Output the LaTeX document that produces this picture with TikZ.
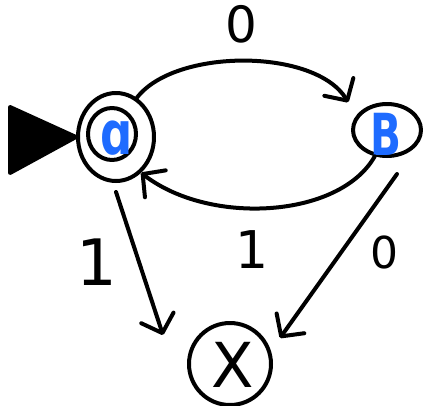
\documentclass[tikz,border=0pt]{standalone}
\usepackage{fontspec}
\setmainfont{DejaVu Sans}
\usetikzlibrary{shapes.geometric,arrows.meta}
\definecolor{stblue}{HTML}{1E6BFF}
\tikzset{
  ink/.style={line width=4pt, line cap=round, line join=round},
  stateouter/.style={ink, draw, ellipse, inner sep=0pt},
  arr/.style={ink, -{Straight Barb[length=16pt,width=34pt,line cap=round,line join=round]}},
  lbl/.style={inner sep=0pt, text=black}
}
\begin{document}
\begin{tikzpicture}[x=1pt,y=-1pt]
\useasboundingbox (0,0) rectangle (423,405);
% states
\node[stateouter, minimum width=76pt, minimum height=88pt] (a) at (116,137) {};
\node[stateouter, minimum width=48pt, minimum height=52pt] (ain) at (112,134) {};
\node[lbl, text=stblue, font=\bfseries\fontsize{60}{60}\selectfont] (alab) at (117,138) {\scalebox{0.75}[1]{ɑ}};
\node[stateouter, minimum width=68pt, minimum height=52pt] (B) at (387,130) {};
\node[lbl, text=stblue, font=\bfseries\fontsize{58}{58}\selectfont] (blab) at (386,134) {\scalebox{0.7}[1]{B}};
\node[ink, draw, circle, minimum size=82pt, inner sep=0pt] (X) at (230,364) {};
\node[lbl, font=\fontsize{62}{62}\selectfont] (xlab) at (233,365) {X};
% initial marker
\filldraw[ink] (a.west) -- ++(-66,-30) -- ++(0,66) -- cycle;
% transitions
\coordinate (t1) at (163,335);
\coordinate (t2) at (280,338);
\draw[arr] (a.62) .. controls (175,48) and (315,48) .. ([shift={(-12pt,9pt)}]B.145);
\draw[arr] (B.245) .. controls (340,218) and (210,226) .. (a.305);
\draw[arr] ([yshift=-9pt]a.south) -- (t1);
\draw[arr] ([shift={(10pt,-16pt)}]B.south) -- (t2);
% labels
\node[lbl, font=\fontsize{50}{50}\selectfont] (l0top) at (241,24) {0};
\node[lbl, font=\fontsize{64}{64}\selectfont] (l1left) at (97,262) {1};
\node[lbl, font=\fontsize{52}{52}\selectfont] (l1bot) at (252,250) {1};
\node[lbl, font=\fontsize{44}{44}\selectfont] (l0right) at (384,252) {0};
\end{tikzpicture}
\end{document}
